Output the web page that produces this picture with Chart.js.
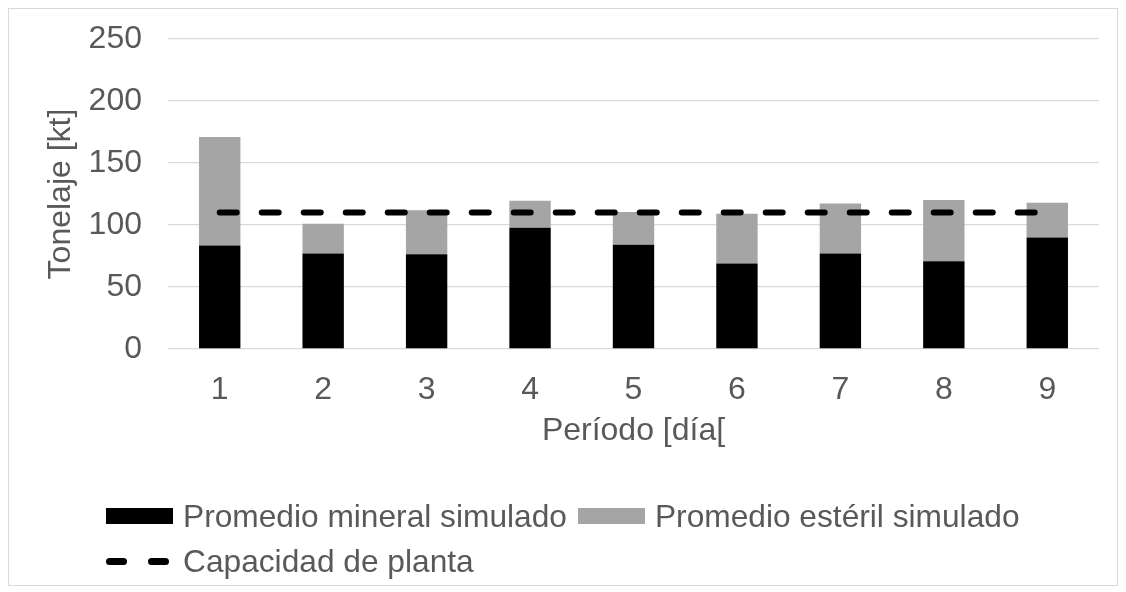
<!DOCTYPE html>
<html lang="es">
<head>
<meta charset="utf-8">
<script src="https://cdn.jsdelivr.net/npm/chart.js@4/dist/chart.umd.min.js"></script>
<style>
  html, body { margin: 0; padding: 0; background: #ffffff; }
  #wrap { position: relative; width: 1126px; height: 592px; overflow: hidden; }
  #frame { position: absolute; left: 8px; top: 8px; width: 1108px; height: 576px; border: 1px solid #d9d9d9; }
  #chart { position: absolute; left: 0; top: 0; }
  .legend-row { position: absolute; left: 106px; height: 32px; display: flex; align-items: center;
    font-family: "Liberation Sans", Arial, sans-serif; font-size: 31.7px; color: #595959; white-space: nowrap; }
  .swatch { display: inline-block; width: 67px; height: 16px; margin-right: 10px; }
  .dash-icon { position: relative; width: 67px; height: 7px; margin-right: 10px; }
  .dash-icon span { position: absolute; top: 0; width: 21px; height: 7px; border-radius: 4px; background: #000; }
  .gap { display: inline-block; width: 11px; }
</style>
</head>
<body>
<div id="wrap">
  <div id="frame"></div>
  <canvas id="chart" width="1126" height="592"></canvas>
  <div id="legend1" class="legend-row" style="top:500px"></div>
  <div id="legend2" class="legend-row" style="top:545px"></div>
</div>
<script>
// Periods (days) and average simulated tonnages, kt
const periodos = ['1', '2', '3', '4', '5', '6', '7', '8', '9'];
const mineral = [83.5, 77, 76.5, 97.8, 84, 69, 77, 70.8, 90];
const esteril = [87.5, 24, 35.3, 21.8, 26.5, 40.1, 40.4, 49.4, 28];
const capacidad = [110, 110, 110, 110, 110, 110, 110, 110, 110];
const yTicks = [0, 50, 100, 150, 200, 250];

const labelMineral = 'Promedio mineral simulado';
const labelEsteril = 'Promedio estéril simulado';
const labelCapacidad = 'Capacidad de planta';

const textColor = '#595959';
const gridColor = '#d9d9d9';
const fontFamily = '"Liberation Sans", Arial, sans-serif';
const baseFont = { family: fontFamily, size: 32, lineHeight: 1.2 };

const chart = new Chart(document.getElementById('chart'), {
  data: {
    labels: periodos,
    datasets: [
      {
        type: 'line', label: labelCapacidad, data: capacidad, order: 0,
        borderColor: '#000000', borderWidth: 6, borderDash: [17, 25],
        borderCapStyle: 'round', pointRadius: 0, fill: false, tension: 0
      },
      {
        type: 'bar', label: labelMineral, data: mineral, order: 1,
        backgroundColor: '#000000', stack: 's', barPercentage: 0.4, categoryPercentage: 1
      },
      {
        type: 'bar', label: labelEsteril, data: esteril, order: 1,
        backgroundColor: '#a5a5a5', stack: 's', barPercentage: 0.4, categoryPercentage: 1
      }
    ]
  },
  options: {
    responsive: false,
    animation: false,
    layout: { padding: { left: 0, right: 27, top: 39, bottom: 133 } },
    plugins: { legend: { display: false }, tooltip: { enabled: false } },
    scales: {
      x: {
        stacked: true,
        grid: { display: false, drawTicks: false },
        border: { display: false },
        ticks: { color: textColor, font: baseFont, padding: 22, maxRotation: 0 },
        title: { display: true, text: 'Período [día[', color: textColor, font: baseFont, padding: { top: 0, bottom: 9 } },
        afterFit: (s) => { s.height = 110; }
      },
      y: {
        stacked: true,
        min: 0, max: 250,
        afterBuildTicks: (s) => { s.ticks = yTicks.map(v => ({ value: v })); },
        // the gap between labels and plot comes from an invisible tick length
        grid: { color: gridColor, lineWidth: 1.3, drawTicks: true, tickLength: 26, tickColor: 'rgba(0,0,0,0)' },
        border: { display: false },
        ticks: { color: textColor, font: baseFont, padding: 0 },
        title: { display: true, text: 'Tonelaje [kt]', color: textColor, font: baseFont, padding: { top: 42, bottom: 0 } },
        afterFit: (s) => { s.width = 168; }
      }
    }
  }
});

// Legend built from the chart's own datasets
function swatchFor(ds) {
  if (ds.type === 'line') {
    const d = document.createElement('span');
    d.className = 'dash-icon';
    d.style.display = 'inline-block';
    const a = document.createElement('span'); a.style.left = '0px';
    const b = document.createElement('span'); b.style.left = '42px';
    d.appendChild(a); d.appendChild(b);
    return d;
  }
  const s = document.createElement('span');
  s.className = 'swatch';
  s.style.background = ds.backgroundColor;
  return s;
}
function addItem(row, ds, trailingGap) {
  row.appendChild(swatchFor(ds));
  const t = document.createElement('span');
  t.textContent = ds.label;
  row.appendChild(t);
  if (trailingGap) { const g = document.createElement('span'); g.className = 'gap'; row.appendChild(g); }
}
const dss = chart.data.datasets;
const row1 = document.getElementById('legend1');
const row2 = document.getElementById('legend2');
addItem(row1, dss[1], true);
addItem(row1, dss[2], false);
addItem(row2, dss[0], false);
</script>
</body>
</html>
